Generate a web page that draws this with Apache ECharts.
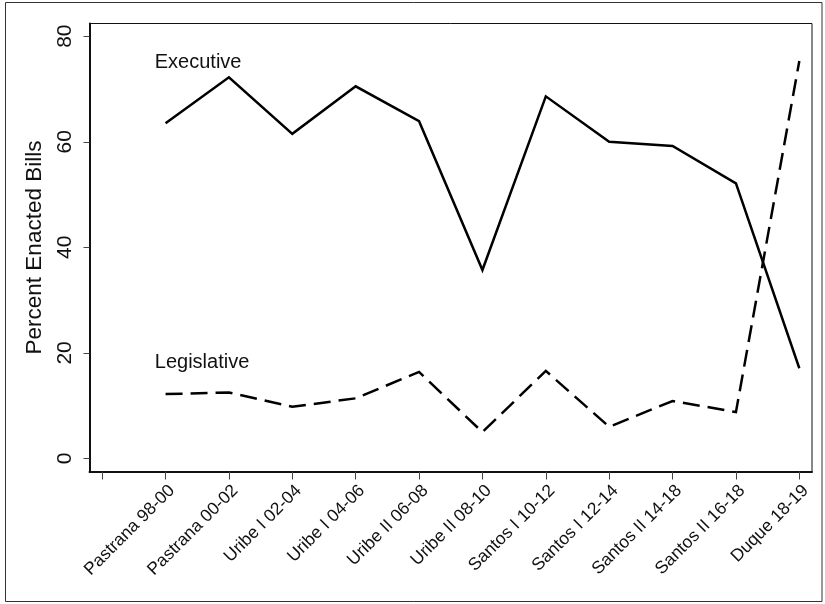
<!DOCTYPE html>
<html>
<head>
<meta charset="utf-8">
<script src="https://cdn.jsdelivr.net/npm/echarts@6/dist/echarts.min.js"></script>
<style>
  html, body { margin: 0; padding: 0; background: #fff; }
  #chart { width: 825px; height: 604px; }
</style>
</head>
<body>
<div id="chart"></div>
<script>
// Congressional periods (position 0 on the axis is a blank tick)
const categories = [
  'Pastrana 98-00', 'Pastrana 00-02', 'Uribe I 02-04', 'Uribe I 04-06',
  'Uribe II 06-08', 'Uribe II 08-10', 'Santos I 10-12', 'Santos I 12-14',
  'Santos II 14-18', 'Santos II 16-18', 'Duque 18-19'
];

// Percent of enacted bills by origin
const executive   = [63.5, 72.2, 61.5, 70.5, 63.9, 35.7, 68.6, 60.0, 59.2, 52.1, 17.1];
const legislative = [12.2, 12.5, 9.8, 11.4, 16.4, 5.0, 16.6, 6.0, 10.9, 8.8, 75.3];

const yTicks = [0, 20, 40, 60, 80];
const xTicks = [0, 1, 2, 3, 4, 5, 6, 7, 8, 9, 10, 11];
const xLabelPositions = [1, 2, 3, 4, 5, 6, 7, 8, 9, 10, 11];

const FONT = 'Liberation Sans, Arial, Helvetica, sans-serif';

const toPoints = arr => arr.map((v, i) => [i + 1, v]);

const chart = echarts.init(document.getElementById('chart'), null, { renderer: 'canvas' });

chart.setOption({
  animation: false,
  backgroundColor: '#fff',
  textStyle: { fontFamily: FONT, color: '#111' },
  graphic: [{
    type: 'rect',
    shape: { x: 5.5, y: 2.5, width: 816.5, height: 599 },
    style: { fill: 'none', stroke: '#333', lineWidth: 1 },
    silent: true
  }],
  grid: {
    left: 89.5, right: 13, top: 23.5, bottom: 132.5,
    show: true, borderColor: '#111', borderWidth: 1, backgroundColor: 'transparent'
  },
  xAxis: {
    type: 'value',
    min: -0.2,
    max: 11.2,
    axisLine: { show: true, onZero: false, lineStyle: { color: '#111', width: 2 } },
    axisTick: { show: true, customValues: xTicks, length: 8, lineStyle: { color: '#444', width: 1 } },
    axisLabel: {
      customValues: xLabelPositions,
      rotate: 45,
      margin: 10,
      align: 'right',
      verticalAlign: 'top',
      fontSize: 17.5,
      fontFamily: FONT,
      color: '#111',
      formatter: v => categories[Math.round(v) - 1] || ''
    },
    splitLine: { show: false }
  },
  yAxis: {
    type: 'value',
    min: -2.46,
    max: 82.4,
    name: 'Percent Enacted Bills',
    nameLocation: 'middle',
    nameRotate: 90,
    nameGap: 39,
    nameTextStyle: { fontSize: 22.5, fontFamily: FONT, color: '#111' },
    axisLine: { show: true, onZero: false, lineStyle: { color: '#111', width: 2 } },
    axisTick: { show: true, customValues: yTicks, length: 6, lineStyle: { color: '#444', width: 1 } },
    axisLabel: {
      customValues: yTicks,
      rotate: 90,
      margin: 14,
      fontSize: 21,
      fontFamily: FONT,
      color: '#111'
    },
    splitLine: { show: false }
  },
  series: [
    {
      name: 'Executive',
      type: 'line',
      data: toPoints(executive),
      symbol: 'none',
      lineStyle: { color: '#000', width: 2.5, type: 'solid', join: 'miter' },
      markPoint: {
        symbol: 'circle',
        symbolSize: 0,
        itemStyle: { color: 'transparent' },
        label: {
          show: true, position: 'right', distance: 0,
          fontSize: 20, fontFamily: FONT, color: '#111',
          formatter: 'Executive'
        },
        data: [{ coord: [0.83, 75] }]
      }
    },
    {
      name: 'Legislative',
      type: 'line',
      data: toPoints(legislative),
      symbol: 'none',
      lineStyle: { color: '#000', width: 2.5, type: [17, 8], join: 'miter' },
      markPoint: {
        symbol: 'circle',
        symbolSize: 0,
        itemStyle: { color: 'transparent' },
        label: {
          show: true, position: 'right', distance: 0,
          fontSize: 20, fontFamily: FONT, color: '#111',
          formatter: 'Legislative'
        },
        data: [{ coord: [0.83, 18.2] }]
      }
    }
  ]
});
</script>
</body>
</html>
